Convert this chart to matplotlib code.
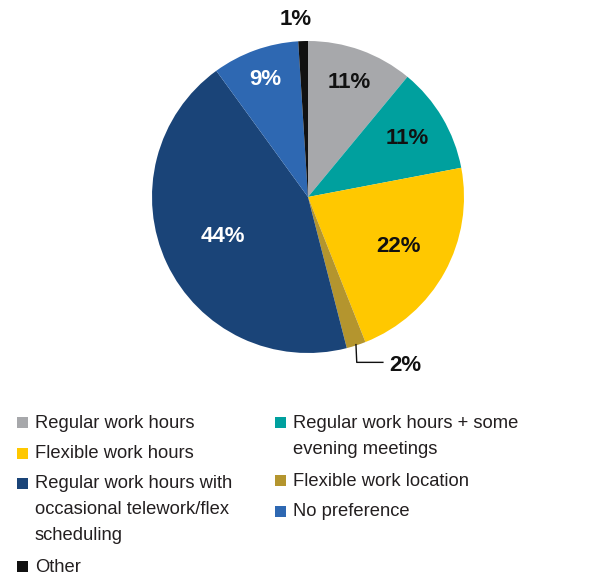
import matplotlib
matplotlib.use("Agg")
import matplotlib.pyplot as plt
from matplotlib import font_manager
from matplotlib.patches import Rectangle
import numpy as np

# data
categories = [
    "Regular work hours",
    "Regular work hours + some\nevening meetings",
    "Flexible work hours",
    "Flexible work location",
    "Regular work hours with\noccasional telework/flex\nscheduling",
    "No preference",
    "Other",
]
values = [11, 11, 22, 2, 44, 9, 1]
colors = ["#A7A8AB", "#00A09E", "#FFC800", "#B4952E", "#1A4478", "#2E68B2", "#111111"]
label_colors = ["#111111", "#111111", "#111111", None, "white", "white", None]
label_radius = [0.78, 0.74, 0.66, None, 0.6, 0.8, None]

# legend layout: (category index, column, first line y in px)
legend_rows = [(0, 0, 423), (2, 0, 454), (4, 0, 484), (6, 0, 567),
               (1, 1, 423), (3, 1, 481), (5, 1, 512)]

names = {f.name for f in font_manager.fontManager.ttflist}
if "Liberation Sans Narrow" in names:
    fam, leg_fs, pct_fs = "Liberation Sans Narrow", 15.5, 18
else:
    fam, leg_fs, pct_fs = "Liberation Sans", 13.2, 16
plt.rcParams["font.family"] = [fam, "DejaVu Sans"]

W, H = 599, 578
fig = plt.figure(figsize=(W / 100, H / 100), dpi=100)

cx, cy, R = 308, 197, 156
ax = fig.add_axes([(cx - R) / W, (H - cy - R) / H, 2 * R / W, 2 * R / H])
wedges, _ = ax.pie(values, colors=colors, startangle=90, counterclock=False,
                   radius=1, wedgeprops=dict(linewidth=0))
ax.set_xlim(-1, 1)
ax.set_ylim(-1, 1)
ax.set_aspect("equal")
ax.axis("off")

cum = np.cumsum([0] + values)
for i, v in enumerate(values):
    mid = (cum[i] + v / 2) / 100 * 2 * np.pi
    dx, dy = np.sin(mid), np.cos(mid)
    if label_radius[i] is not None:
        r = label_radius[i]
        ax.text(r * dx, r * dy, f"{v}%", ha="center", va="center",
                fontsize=pct_fs, fontweight="bold", color=label_colors[i])
    elif v == 1:
        ax.text(-0.08, 1.14, f"{v}%", ha="center", va="center",
                fontsize=pct_fs, fontweight="bold", color="#111111")
    else:
        x0, y0 = 0.995 * dx, 0.995 * dy
        ax.plot([x0, x0 + 0.005, 0.48], [y0, -1.06, -1.06], color="#111111",
                lw=1, clip_on=False)
        ax.text(0.52, -1.08, f"{v}%", ha="left", va="center",
                fontsize=pct_fs, fontweight="bold", color="#111111")

# legend drawn on a pixel overlay
lax = fig.add_axes([0, 0, 1, 1])
lax.set_xlim(0, W)
lax.set_ylim(H, 0)
lax.axis("off")
col_sq = [17, 275]
col_tx = [35, 293]
for idx, col, y in legend_rows:
    lax.add_patch(Rectangle((col_sq[col], y - 6), 11, 11, color=colors[idx], lw=0))
    for j, line in enumerate(categories[idx].split("\n")):
        lax.text(col_tx[col], y + j * 26, line, ha="left", va="center",
                 fontsize=leg_fs, color="#231F20")

fig.savefig("out.png", dpi=100)
